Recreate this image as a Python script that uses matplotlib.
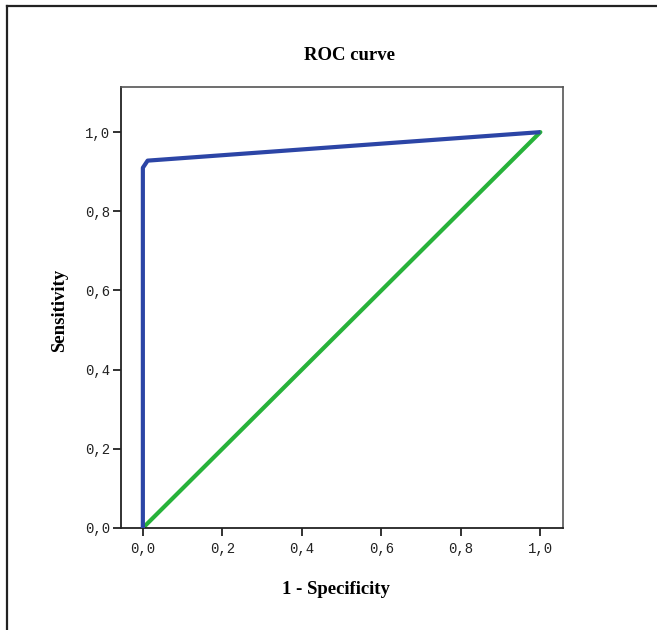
import matplotlib
matplotlib.use("Agg")
import matplotlib.pyplot as plt
from matplotlib.lines import Line2D

# Data
roc_fpr = [0.0, 0.0, 0.012, 1.0]
roc_tpr = [0.0, 0.91, 0.928, 1.0]
ref_x = [0.0, 1.0]
ref_y = [0.0, 1.0]
ticks = [0.0, 0.2, 0.4, 0.6, 0.8, 1.0]
tick_labels = ["0,0", "0,2", "0,4", "0,6", "0,8", "1,0"]

W, H = 657, 630
fig = plt.figure(figsize=(W / 100, H / 100), dpi=100)
fig.patch.set_facecolor("white")

# axes box: left 121, right 563, top 87, bottom 528 (pixels)
ax = fig.add_axes([121 / W, 1 - 528 / H, (563 - 121) / W, (528 - 87) / H])
ax.plot(ref_x, ref_y, color="#27b23a", lw=3.0, solid_capstyle="round", zorder=2)
ax.plot(roc_fpr, roc_tpr, color="#2c45a6", lw=3.0, solid_joinstyle="round",
        solid_capstyle="butt", zorder=3)

ax.set_xlim(-0.055, 1.057)
ax.set_ylim(0.0, 1.114)
ax.set_xticks(ticks)
ax.set_xticklabels(tick_labels)
ax.set_yticks(ticks)
ax.set_yticklabels(tick_labels)
mono = {"family": "Liberation Mono", "size": 10}
for lab in ax.get_xticklabels() + ax.get_yticklabels():
    lab.set_fontfamily("Liberation Mono")
    lab.set_fontsize(10)
    lab.set_color("#222222")
ax.tick_params(axis="both", direction="out", length=6, width=1.3, color="#222222")
ax.tick_params(axis="x", pad=4)
ax.tick_params(axis="y", pad=2)
for s in ["left", "bottom"]:
    ax.spines[s].set_linewidth(1.3)
    ax.spines[s].set_color("#222222")
for s in ["top", "right"]:
    ax.spines[s].set_linewidth(1.2)
    ax.spines[s].set_color("#555555")

serif = ["Liberation Serif", "DejaVu Serif"]
fig.text(350 / W, 1 - 55 / H, "ROC curve", ha="center", va="center",
         family=serif, weight="bold", fontsize=13.5)
fig.text(336 / W, 1 - 590 / H, "1 - Specificity", ha="center", va="center",
         family=serif, weight="bold", fontsize=13.5)
fig.text(60 / W, 1 - 310 / H, "Sensitivity", ha="center", va="center",
         rotation=90, family=serif, weight="bold", fontsize=13.5)

# outer frame lines (top and left)
fig.add_artist(Line2D([7 / W, 1.0], [1 - 5.5 / H, 1 - 5.5 / H],
                      transform=fig.transFigure, color="#222222", lw=1.6))
fig.add_artist(Line2D([7 / W, 7 / W], [0.0, 1 - 5.5 / H],
                      transform=fig.transFigure, color="#222222", lw=1.6))

fig.savefig("out.png", dpi=100, facecolor="white")
